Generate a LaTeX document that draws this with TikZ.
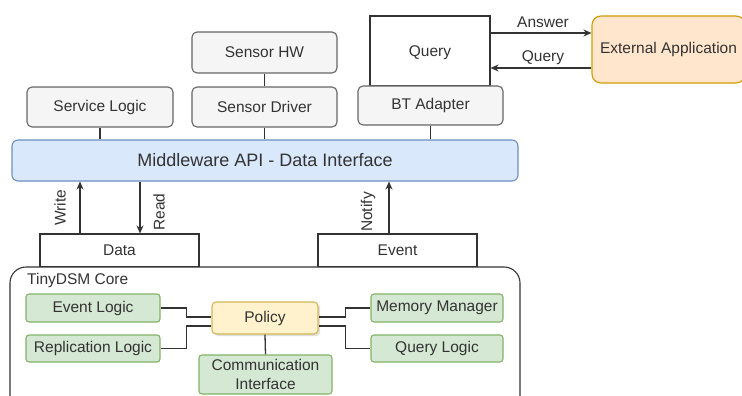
\documentclass[tikz,border=0pt]{standalone}
\usepackage{fontspec}
\setmainfont{Liberation Sans}
\usetikzlibrary{arrows.meta,calc,shadows}
\definecolor{txt}{HTML}{333333}
\definecolor{ln}{HTML}{333333}
\definecolor{gfill}{HTML}{F5F5F5}
\definecolor{gline}{HTML}{666666}
\definecolor{bfill}{HTML}{DAE8FC}
\definecolor{bline}{HTML}{6C8EBF}
\definecolor{grfill}{HTML}{D5E8D4}
\definecolor{grline}{HTML}{82B366}
\definecolor{yfill}{HTML}{FFF2CC}
\definecolor{yline}{HTML}{D6B656}
\definecolor{ofill}{HTML}{FFE6CC}
\definecolor{oline}{HTML}{D79B00}
\tikzset{
  base/.style={inner sep=0pt, line width=1.1pt, text=txt, font=\fontsize{15.5}{18}\selectfont, align=center},
  graybox/.style={base, draw=gline, fill=gfill, rounded corners=5pt},
  plainbox/.style={base, draw=ln, fill=white},
  greenbox/.style={base, draw=grline, fill=grfill, rounded corners=3pt},
  conn/.style={draw=ln, line width=1.3pt},
  arr/.style={conn, -{Stealth[length=8pt,width=7pt]}},
  lbl/.style={text=txt, font=\fontsize{15.5}{18}\selectfont, inner sep=0pt},
}
\begin{document}
\begin{tikzpicture}[x=1pt,y=-1pt]
\clip (0,0) rectangle (742,396);
\fill[white] (0,0) rectangle (742,396);
% top row
\node[graybox, minimum width=145pt, minimum height=41pt] (hw) at (264.5,52.5) {Sensor HW};
\node[graybox, minimum width=145pt, minimum height=40pt] (drv) at (264.5,107) {Sensor Driver};
\node[graybox, minimum width=146pt, minimum height=40pt] (svc) at (100,107) {Service Logic};
\node[plainbox, minimum width=120pt, minimum height=70pt, text depth=0pt] (query) at (430,51) {Query};
\node[graybox, minimum width=145pt, minimum height=39pt] (bt) at (430.5,105.5) {BT Adapter};
\node[base, draw=oline, fill=ofill, rounded corners=9pt, minimum width=153pt, minimum height=67pt] (ext) at (668.5,49.5) {External Application};
% middleware
\node[base, draw=bline, fill=bfill, rounded corners=6pt, minimum width=506pt, minimum height=41pt, font=\fontsize{18}{21}\selectfont] (mw) at (265,160.5) {Middleware API - Data Interface};
% data/event
\node[plainbox, minimum width=159pt, minimum height=33pt] (data) at (119.5,250.5) {Data};
\node[plainbox, minimum width=159pt, minimum height=33pt] (event) at (397.5,250.5) {Event};
% core
\node[base, draw=ln, fill=white, rounded corners=16pt, minimum width=510pt, minimum height=150pt] (core) at (265,342) {};
\node[lbl, anchor=west] (corelbl) at (27,280) {TinyDSM Core};
\node[greenbox, minimum width=134pt, minimum height=28pt] (evl) at (93,308) {Event Logic};
\node[greenbox, minimum width=134pt, minimum height=27pt] (repl) at (93,348.5) {Replication Logic};
\node[base, draw=yline, fill=yfill, rounded corners=4pt, minimum width=106pt, minimum height=32pt, drop shadow={opacity=0.25, shadow xshift=2pt, shadow yshift=-2pt}] (pol) at (265,318) {Policy};
\node[greenbox, minimum width=133pt, minimum height=39pt, font=\fontsize{15.5}{19}\selectfont] (comm) at (265.5,374.5) {Communication\\Interface};
\node[greenbox, minimum width=132pt, minimum height=28pt] (mem) at (437,308) {Memory Manager};
\node[greenbox, minimum width=132pt, minimum height=27pt] (ql) at (437,348.5) {Query Logic};
% vertical links to middleware
\draw[conn] (hw.south) -- (drv.north);
\draw[conn] (svc.south) -- (svc.south |- mw.north);
\draw[conn] (drv.south) -- (drv.south |- mw.north);
\draw[conn] (bt.south) -- (bt.south |- mw.north);
% write/read/notify
\coordinate (wx) at (80,0);
\coordinate (rx) at (140,0);
\coordinate (nx) at (389,0);
\draw[arr] (data.north -| wx) -- (mw.south -| wx);
\draw[arr] (mw.south -| rx) -- (data.north -| rx);
\draw[arr] (event.north -| nx) -- (mw.south -| nx);
\node[lbl, rotate=90] (wl) at (60,208) {Write};
\node[lbl, rotate=90] (rl) at (159,212) {Read};
\node[lbl, rotate=90] (nl) at (368,212) {Notify};
% answer/query
\coordinate (ay) at (0,33);
\coordinate (qy) at (0,68);
\draw[arr] (query.east |- ay) -- (ext.west |- ay);
\draw[arr] (ext.west |- qy) -- (query.east |- qy);
\node[lbl] (al) at (543,22) {Answer};
\node[lbl] (ql2) at (543,58) {Query};
% core links
\draw[conn] (evl.east) -- ++(26,0) |- ($(pol.west)+(0,-1)$);
\draw[conn] (repl.east) -- ++(26,0) |- ($(pol.west)+(0,8)$);
\draw[conn] ($(pol.east)+(0,-1)$) -- ++(27,0) |- (mem.west);
\draw[conn] ($(pol.east)+(0,8)$) -- ++(27,0) |- (ql.west);
\draw[conn] (pol.south) -- (comm.north);
\end{tikzpicture}
\end{document}
